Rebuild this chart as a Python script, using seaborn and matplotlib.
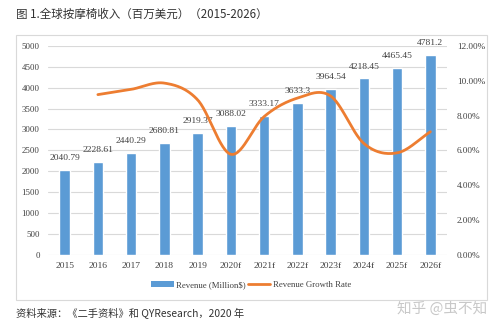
import numpy as np
import pandas as pd
import matplotlib
matplotlib.use("Agg")
import matplotlib.pyplot as plt
from matplotlib.patches import Rectangle, Patch
from matplotlib.lines import Line2D
import seaborn as sns

years = ["2015", "2016", "2017", "2018", "2019", "2020f", "2021f",
         "2022f", "2023f", "2024f", "2025f", "2026f"]
revenue = [2040.79, 2228.61, 2440.29, 2680.81, 2919.37, 3088.02, 3333.17,
           3633.3, 3964.54, 4218.45, 4465.45, 4781.2]
revenue_labels = ["2040.79", "2228.61", "2440.29", "2680.81", "2919.37", "3088.02",
                  "3333.17", "3633.3", "3964.54", "4218.45", "4465.45", "4781.2"]
growth_years = years[1:]
growth_rate = [0.0920, 0.0950, 0.0986, 0.0890, 0.0578, 0.0794,
               0.0900, 0.0912, 0.0640, 0.0586, 0.0707]

sns.set_theme(style="white")
plt.rcParams["font.family"] = ["Liberation Serif", "DejaVu Sans"]

BLUE = "#5B9BD5"
ORANGE = "#ED7D31"
TXT = "#404040"

fig = plt.figure(figsize=(5.0, 3.27), dpi=100)
ax = fig.add_axes([0.096, 0.220, 0.798, 0.640])

df = pd.DataFrame({"year": years, "revenue": revenue})
sns.barplot(data=df, x="year", y="revenue", color=BLUE, width=0.31,
            saturation=1, ax=ax)
ax.set_xlim(-0.5, len(years) - 0.5)
ax.set_ylim(0, 5000)
ax.set_yticks(np.arange(0, 5001, 500))
ax.yaxis.grid(True, color="#D9D9D9", linewidth=0.8)
ax.set_axisbelow(True)
for s in ax.spines.values():
    s.set_visible(False)
ax.set_xlabel("")
ax.set_ylabel("")
ax.tick_params(axis="x", labelsize=6.8, colors=TXT, length=0, pad=5)
ax.tick_params(axis="y", labelsize=6.4, colors=TXT, length=0, pad=6)

for i, (v, lab) in enumerate(zip(revenue, revenue_labels)):
    ax.text(i, v + 190, lab, ha="center", va="bottom", fontsize=6.8, color=TXT)

# smoothed growth-rate curve (Catmull-Rom through the yearly values)
ax2 = ax.twinx()
xs = np.array([years.index(y) for y in growth_years], dtype=float)
ys = np.array(growth_rate)
px = np.concatenate([[2 * xs[0] - xs[1]], xs, [2 * xs[-1] - xs[-2]]])
py = np.concatenate([[2 * ys[0] - ys[1]], ys, [2 * ys[-1] - ys[-2]]])
cx, cy = [], []
t = np.linspace(0, 1, 30)
for k in range(1, len(px) - 2):
    p0, p1, p2, p3 = py[k - 1], py[k], py[k + 1], py[k + 2]
    q0, q1, q2, q3 = px[k - 1], px[k], px[k + 1], px[k + 2]
    cy.extend(0.5 * (2 * p1 + (-p0 + p2) * t + (2 * p0 - 5 * p1 + 4 * p2 - p3) * t ** 2
                     + (-p0 + 3 * p1 - 3 * p2 + p3) * t ** 3))
    cx.extend(0.5 * (2 * q1 + (-q0 + q2) * t + (2 * q0 - 5 * q1 + 4 * q2 - q3) * t ** 2
                     + (-q0 + 3 * q1 - 3 * q2 + q3) * t ** 3))
curve = pd.DataFrame({"x": cx, "rate": cy})
sns.lineplot(data=curve, x="x", y="rate", color=ORANGE, linewidth=2.0,
             sort=False, ax=ax2)
ax2.set_ylim(0, 0.12)
ax2.set_yticks(np.arange(0, 0.1201, 0.02))
ax2.set_yticklabels([f"{v*100:.2f}%" for v in np.arange(0, 0.1201, 0.02)])
ax2.set_xlim(-0.5, len(years) - 0.5)
ax2.set_xlabel("")
ax2.set_ylabel("")
for s in ax2.spines.values():
    s.set_visible(False)
ax2.tick_params(axis="y", labelsize=6.6, colors=TXT, length=0, pad=7)
ax2.grid(False)

handles = [Patch(facecolor=BLUE, edgecolor="none"),
           Line2D([0], [0], color=ORANGE, linewidth=2)]
fig.legend(handles, ["Revenue (Million$)", "Revenue Growth Rate"],
           loc="center", bbox_to_anchor=(0.502, 0.128), ncol=2, frameon=False,
           fontsize=6.3, handlelength=2.6, handleheight=0.6, columnspacing=0.2,
           handletextpad=0.3, labelcolor=TXT)

# outer chart frame
fig.add_artist(Rectangle((0.032, 0.083), 0.942, 0.810, transform=fig.transFigure,
                         fill=False, edgecolor="#D9D9D9", linewidth=0.8))

cjk = ["Noto Sans CJK SC", "DejaVu Sans"]
fig.text(0.032, 0.955, "图 1.全球按摩椅收入（百万美元）（2015-2026）",
         family=cjk, fontsize=8.3, color="#333333", weight="medium",
         ha="left", va="center")
fig.text(0.032, 0.043, "资料来源：《二手资料》和 QYResearch，2020 年",
         family=cjk, fontsize=7.4, color="#333333", ha="left", va="center")
fig.text(0.974, 0.056, "知乎 @虫不知", family=cjk, fontsize=10.5,
         color="#C8C8C8", ha="right", va="center")

fig.savefig("out.png", dpi=100)
